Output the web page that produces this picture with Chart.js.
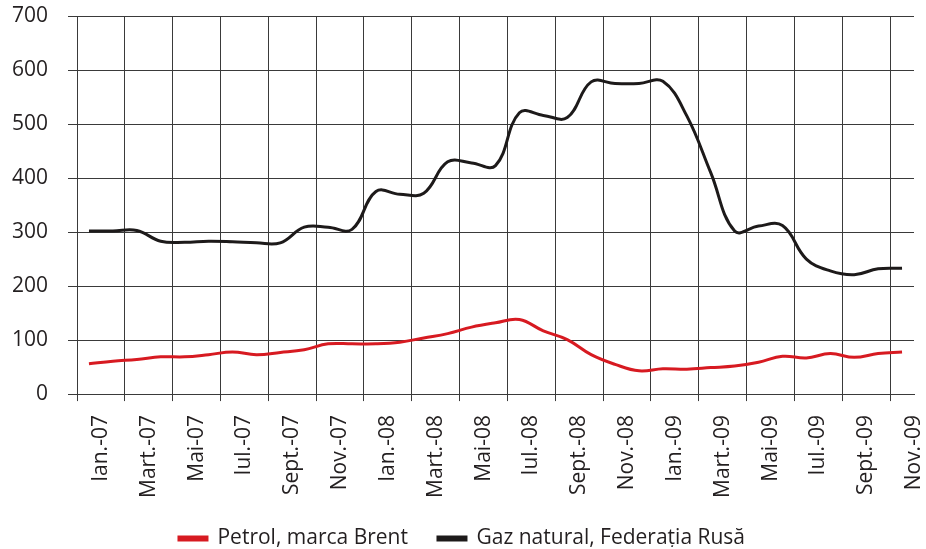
<!DOCTYPE html>
<html>
<head>
<meta charset="utf-8">
<script src="https://cdn.jsdelivr.net/npm/chart.js@4"></script>
<style>
  html, body { margin: 0; padding: 0; background: #fff; }
  #wrap { width: 926px; height: 549px; }
</style>
</head>
<body>
<div id="wrap"><canvas id="priceChart"></canvas></div>
<script>
// monthly, Ian.-07 .. Nov.-09
const months = [
    "Ian.-07", "Feb.-07", "Mart.-07", "Apr.-07", "Mai-07", "Iun.-07",
    "Iul.-07", "Aug.-07", "Sept.-07", "Oct.-07", "Nov.-07", "Dec.-07",
    "Ian.-08", "Feb.-08", "Mart.-08", "Apr.-08", "Mai-08", "Iun.-08",
    "Iul.-08", "Aug.-08", "Sept.-08", "Oct.-08", "Nov.-08", "Dec.-08",
    "Ian.-09", "Feb.-09", "Mart.-09", "Apr.-09", "Mai-09", "Iun.-09",
    "Iul.-09", "Aug.-09", "Sept.-09", "Oct.-09", "Nov.-09",
];
const brent = [
    56, 61, 64, 69, 69, 73, 78, 73, 77, 82, 93, 93,
    93, 96, 104, 112, 124, 132, 138, 117, 101, 73, 55, 43,
    47, 46, 49, 52, 59, 70, 67, 75, 68, 75, 78,
];
const gasRussia = [
    302, 302, 303, 283, 281, 283, 282, 280, 280, 309, 309, 305,
    375, 370, 372, 430, 428, 423, 521, 516, 512, 578, 575, 575,
    579, 515, 410, 302, 311, 312, 250, 228, 221, 232, 233,
];
const yTicks = [0, 100, 200, 300, 400, 500, 600, 700];

const textColor = "#231f20";
const gridColor = "#3a3a3a";
const fontFamily = "'Open Sans', sans-serif";

// legend takes less room than chart.js gives it by default
const legendFit = {
    id: "legendFit",
    beforeLayout(chart) {
        const lg = chart.legend;
        if (lg && !lg._patched) {
            const fit = lg.fit;
            lg.fit = function () {
                fit.call(this);
                this.height -= 12;
            };
            lg._patched = true;
        }
    },
};

const ctx = document.getElementById("priceChart").getContext("2d");
new Chart(ctx, {
    type: "line",
    data: {
        labels: months,
        datasets: [
            {
                label: "Petrol, marca Brent",
                data: brent,
                borderColor: "#d71a21",
                backgroundColor: "#d71a21",
                borderWidth: 3,
                pointRadius: 0,
                tension: 0.4,
            },
            {
                label: "Gaz natural, Federația Rusă",
                data: gasRussia,
                borderColor: "#1d1a1a",
                backgroundColor: "#1d1a1a",
                borderWidth: 3,
                pointRadius: 0,
                tension: 0.4,
            },
        ],
    },
    plugins: [legendFit],
    options: {
        responsive: true,
        maintainAspectRatio: false,
        animation: false,
        layout: { padding: { left: 10, right: 12, top: 16, bottom: 2 } },
        plugins: {
            tooltip: { enabled: false },
            legend: {
                position: "bottom",
                labels: {
                    boxWidth: 28,
                    boxHeight: 3,
                    padding: 30,
                    color: textColor,
                    font: { family: fontFamily, size: 21 },
                },
            },
        },
        scales: {
            x: {
                offset: true,
                afterFit: (s) => {
                    s.paddingLeft = 0;
                    s.paddingRight = 0;
                    s.height -= 14;
                },
                grid: {
                    offset: true,
                    tickLength: 7,
                    lineWidth: 1,
                    color: (c) => (c.index % 2 === 0 ? gridColor : "rgba(0,0,0,0)"),
                },
                border: { color: gridColor },
                ticks: {
                    autoSkip: false,
                    minRotation: 90,
                    maxRotation: 90,
                    labelOffset: 12,
                    padding: 14,
                    color: textColor,
                    font: { family: fontFamily, size: 21 },
                    callback: function (value, index) {
                        return index % 2 === 0 ? months[index] : "";
                    },
                },
            },
            y: {
                min: 0,
                max: 700,
                afterBuildTicks: (axis) => {
                    axis.ticks = yTicks.map((v) => ({ value: v }));
                },
                afterFit: (s) => {
                    s.width = 67;
                    s.paddingTop = 0;
                    s.paddingBottom = 0;
                },
                grid: { tickLength: 9, color: gridColor, lineWidth: 1 },
                border: { color: gridColor },
                ticks: {
                    padding: 20,
                    color: textColor,
                    font: { family: fontFamily, size: 21 },
                },
            },
        },
    },
});
</script>
</body>
</html>
